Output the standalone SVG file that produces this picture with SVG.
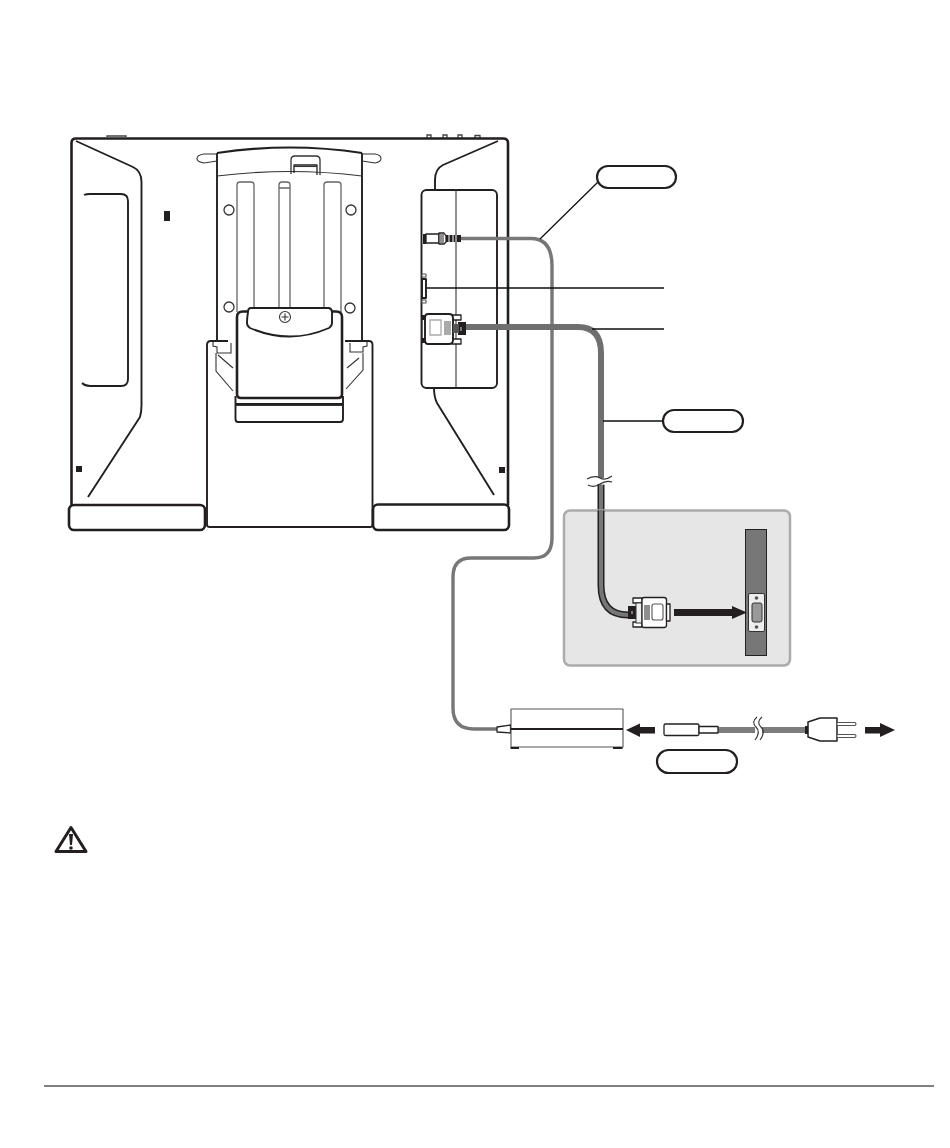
<svg xmlns="http://www.w3.org/2000/svg" width="950" height="1148" viewBox="0 0 950 1148">
<style>
.k{fill:none;stroke:#231f20;stroke-width:2.600;stroke-linejoin:round;stroke-linecap:round}
.m{fill:none;stroke:#231f20;stroke-width:1.900;stroke-linejoin:round}
.t{fill:none;stroke:#333;stroke-width:1.100}
.g{fill:none;stroke:#666;stroke-width:1.300}
.w{fill:#fff;stroke:#231f20;stroke-width:1.300;stroke-linejoin:round}
.wg{fill:#fff;stroke:#555;stroke-width:1.100;stroke-linejoin:round}
.b{fill:#231f20}
.pill{fill:#fff;stroke:#231f20;stroke-width:2.200}
.lead{fill:none;stroke:#111;stroke-width:1.300}
</style>
<rect width="950" height="1148" fill="#fff"/>
<g id="tablet">
<path class="g" d="M107 137V136H126V137M427 138V135H431V138M443 138V135H447V138M458 138V135H462V138M475 138V135.500H480V138" style="stroke:#444"/>
<path class="k" d="M71.500 505V143Q71.500 138.500 76 138.500H503Q508 138.500 508 143V505"/>
<path class="m" d="M76 141L133 167Q141.500 171 141.500 182V405Q141.500 412 140 417L88 497"/>
<path class="m" d="M84 195Q86 194 90 194H121Q128 194 128 201V379Q128 386 121 386H90Q85 386 82 383"/>
<rect class="b" x="164" y="211" width="6" height="10"/>
<rect class="b" x="76" y="466" width="6" height="6"/>
<rect class="b" x="499" y="467" width="6" height="6"/>
<path class="m" d="M498 141L443 165Q435 169 435 180V190"/>
<path class="m" d="M434 388Q434 397 437 403L494 495"/>
</g>
<g id="foot-left"><rect class="k" x="69" y="505" width="136" height="25" rx="5" style="fill:#fff"/></g>
<g id="foot-right"><rect class="k" x="373" y="504.500" width="136" height="25.500" rx="5" style="fill:#fff"/></g>
<g id="hinge">
<path class="m" d="M217 153Q290 142 362 153" style="stroke-width:2.200"/>
<path class="m" d="M217 153V340M362 153V340"/>
<path class="t" d="M217 154H204Q197 155 197 158.500Q197 162 204 163L217 161M362 154H375Q381 155 381 158.500Q381 162 375 163L362 161"/>
<path class="t" d="M217 176Q290 167 362 176"/>
<path class="g" d="M291 174V160Q291 156 295 156H316Q320 156 320 160V175" style="stroke:#333"/>
<path class="m" d="M294 173V165H317V175" style="stroke-width:1.300"/>
<path class="t" d="M294 166.500H317"/>
<path class="g" d="M237 312V185Q237 182 240 182H251Q254 182 254 185V310M279 309V185Q279 182 282 182H287Q290 182 290 185V309M324 309V185Q324 182 327 182H338Q341 182 341 185V312M279 188H290"/>
<g class="g" style="stroke:#333"><circle cx="229" cy="210" r="5"/><circle cx="351" cy="210" r="5"/><circle cx="229" cy="307" r="5"/><circle cx="350" cy="308" r="5"/></g>
</g>
<g id="stand">
<path class="m" d="M207 525V345Q207 341 211 341H228M372.500 525V345Q372.500 341 369 341H345M207 525Q207 527 210 527H370Q372.500 527 372.500 525"/>
<path class="t" d="M213 342V346L217 347V353H231V343M367 342V346L363 347V352H350V343"/>
<path class="t" d="M218 355L233 368M216 353V371L233 391M359 358L347 368M363 353V370L346 389"/>
</g>
<g id="clamp">
<path class="m" d="M235.500 396V404H343V396M235.500 404V419Q235.500 422 238 422H340Q343 422 343 419V404" style="fill:#fff"/>
<path class="t" d="M236 405.500H343"/>
<path class="k" d="M237 394V317Q237 311.500 243 311.500H336Q342 311.500 342 317V394Q342 398 338 398H241Q237 398 237 394Z" style="fill:#fff"/>
<path class="m" d="M248 312Q247 318 247 323Q247 326 250 328Q290 345 329 328Q332 326 332 323V312Q332 309 329 308H251Q248 308 248 312Z" style="fill:#fff"/>
<circle class="t" cx="285" cy="317" r="5.500"/>
<path class="t" d="M285 313.500V320.500M281.500 317H288.500"/>
</g>
<g id="port-panel">
<rect class="m" x="421.500" y="190" width="75.500" height="198" rx="5" style="fill:#fff"/>
<path class="t" d="M456 190V388"/>
<rect class="wg" x="422" y="274" width="4" height="3"/>
<rect class="wg" x="422" y="300" width="4" height="3"/>
<rect class="m" x="422" y="279" width="4" height="19" style="fill:#fff"/>
</g>
<g id="connectors">
<path fill="none" stroke="#777" stroke-width="3.400" d="M460 238.500H531Q552 238.500 552 266V538Q552 558 534 558H471Q453 558 453 577V708Q453 729 474 729H497"/>
<path fill="none" stroke="#6f6f6f" stroke-width="6" d="M464 327H578Q601 327 601 353V478"/>
<path fill="none" stroke="#231f20" stroke-width="7" d="M601 484V585Q601 615 628 615"/>
<path fill="none" stroke="#777" stroke-width="4" d="M601 484V585Q601 615 628 615"/>
<path fill="#fff" stroke="none" d="M587 480Q595 476 600 479T612 477V483Q605 486 600 484T588 484Z"/>
<path class="t" d="M587 479Q595 475 600 478T612 476M588 485Q594 488 600 484T612 482" style="stroke-width:1.300"/>
<path fill="none" stroke="#7d7d7d" stroke-width="6" d="M718 730H805"/>
<path fill="#fff" stroke="none" d="M755 722H762V739H755Z"/>
<path class="t" d="M757 717Q751 722 756 727T755 740M762 717Q756 722 761 727T760 740"/>
<path class="lead" d="M598 182L540 239M427 288H664M592 329H664M603 421H663"/>
</g>
<g id="jack">
<rect class="b" x="423" y="234" width="3" height="10"/>
<path class="w" d="M426 234H439V243H426Z"/>
<path class="w" d="M439 233H444L446 236V242L444 244H439Z"/>
<path class="t" d="M441 234V243M443 234V243"/>
<rect class="b" x="446" y="235" width="15" height="7"/>
<path stroke="#fff" stroke-width="1" d="M449 235V242M453 235V242M456 235V242"/>
</g>
<g id="dvi-connector">
<path class="b" d="M422 315H426V320H422ZM422 338H426V343H422Z"/>
<path class="t" d="M422 320V338"/>
<rect class="w" x="452" y="315" width="9" height="5"/>
<rect class="w" x="452" y="339" width="9" height="5"/>
<path class="m" d="M428 314H449Q453 314 453 318V340Q453 344 449 344H428Q425 344 425 340V318Q425 314 428 314Z" style="fill:#fff"/>
<path class="g" d="M430 320H441V335H430Z" style="stroke:#aaa"/>
<rect x="444" y="321" width="7" height="14" fill="#aaa"/>
<path class="b" d="M458 322H466V335H458Z"/>
<rect x="453" y="324" width="6" height="9" fill="#555"/>
<path stroke="#fff" stroke-width=".8" d="M461 327V331"/>
</g>
<g id="computer-inset">
<rect x="564" y="510.500" width="226" height="155" rx="6" fill="#e6e6e6" stroke="#ababab" stroke-width="2.500"/>
<path fill="none" stroke="#231f20" stroke-width="7" d="M601 510.500V585Q601 615 628 615"/>
<path fill="none" stroke="#777" stroke-width="4" d="M601 510V585Q601 615 628 615"/>
<rect x="745.500" y="529.500" width="21" height="126" fill="#777" stroke="#231f20" stroke-width="1"/>
<g id="vga-port">
<rect x="748.500" y="593.500" width="16" height="38" rx="1.500" fill="#eee" stroke="#333" stroke-width="1"/>
<circle cx="756.500" cy="598" r="1.800" fill="#555"/>
<circle cx="756.500" cy="627" r="1.800" fill="#555"/>
<path d="M752 605Q752 603 754 603H760Q762 603 762 605V620Q762 622 760 622H754Q752 622 752 620Z" fill="#999" stroke="#333"/>
</g>
<g id="vga-connector">
<path class="b" d="M628 606H636V619H628Z"/>
<path stroke="#fff" stroke-width=".8" d="M632 611V614"/>
<rect class="w" x="633" y="598" width="9" height="5"/>
<rect class="w" x="633" y="622" width="9" height="5"/>
<rect x="636" y="603" width="6" height="20" fill="#eee" stroke="#333"/>
<path class="w" d="M644 597.500H664Q666.500 597.500 666.500 600V625Q666.500 627.500 664 627.500H644Q642 627.500 642 625V600Q642 597.500 644 597.500Z"/>
<path class="t" d="M645 605V620M647 605V620M649 605V620"/>
<rect class="wg" x="652" y="604" width="11" height="16" rx="2"/>
<path class="w" d="M666.500 604H670V621H666.500Z"/>
</g>
<path id="vga-arrow" class="b" d="M674 609H732V606L747 612.500L732 619V616H674Z"/>
</g>
<g id="adapter">
<path class="w" d="M497 727L510.500 725V733L497 732Z"/>
<path class="wg" d="M511 709H623V747H511Z"/>
<path class="m" d="M511 729H623"/>
<path class="b" d="M510.500 747H519V749H510.500ZM613 747H622.500V749H613Z"/>
</g>
<g id="power-cord">
<path class="b" d="M626 730L640 723.500V727H655V733.500H640V737Z"/>
<rect class="w" x="664" y="724" width="35" height="11.500" rx="1.500"/>
<rect class="w" x="699" y="726.500" width="19" height="6.500"/>
<rect class="b" x="805" y="726" width="4" height="8"/>
<path class="w" d="M808 722L820 718H837V741H820L808 737Z" style="stroke-width:1.500"/>
<path class="wg" d="M837 722.500H855Q857 724 855 725.500H837ZM837 734.500H855Q857 736 855 737.500H837Z"/>
<path class="b" d="M865 727H880V723L895 730L880 737V733.500H865Z"/>
</g>
<g id="label-cable-top"><rect class="pill" x="597" y="166" width="79" height="22" rx="11"/></g>
<g id="label-cable-mid"><rect class="pill" x="663" y="410" width="80" height="22" rx="11"/></g>
<g id="label-cord"><rect class="pill" x="657" y="750" width="80" height="23" rx="11.500"/></g>
<g id="warning">
<path fill="none" stroke="#231f20" stroke-width="3" stroke-linejoin="round" d="M71 827.500L86 851.500H56Z"/>
<path class="b" d="M69 834H73L72 845H70Z"/>
<circle class="b" cx="71" cy="848" r="1.800"/>
</g>
<path id="footer-rule" stroke="#808080" stroke-width="2" d="M44 1086H934"/>
</svg>
